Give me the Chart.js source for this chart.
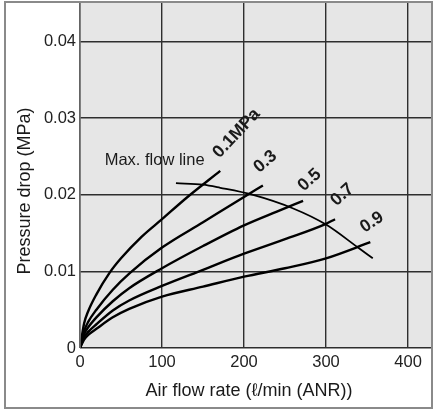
<!DOCTYPE html>
<html>
<head>
<meta charset="utf-8">
<script src="https://cdn.jsdelivr.net/npm/chart.js@4"></script>
<style>
  html, body { margin: 0; padding: 0; background: #fff; }
  #wrap { width: 433px; height: 411px; }
</style>
</head>
<body>
<div id="wrap"><canvas id="chart" width="433" height="411"></canvas></div>
<script>
// pressure labels for each curve
const pressures = ['0.1MPa', '0.3', '0.5', '0.7', '0.9'];

// air flow (l/min) and pressure drop (MPa)
const flow01 = [0, 5, 10, 20, 36, 50, 75, 100, 130, 171];
const drop01 = [0, 0.0032, 0.0048, 0.0070, 0.0098, 0.0117, 0.0145, 0.0168, 0.0196, 0.0231];

const flow03 = [0, 5, 10, 20, 40, 61, 100, 150, 200, 223];
const drop03 = [0, 0.0022, 0.0034, 0.0050, 0.0076, 0.0098, 0.0131, 0.0164, 0.0197, 0.0212];

const flow05 = [0, 5, 10, 20, 40, 60, 100, 150, 200, 240, 272];
const drop05 = [0, 0.0018, 0.0027, 0.0040, 0.0061, 0.0078, 0.0104, 0.0133, 0.0160, 0.0178, 0.0192];

const flow07 = [0, 5, 10, 20, 40, 60, 100, 150, 200, 250, 300, 311];
const drop07 = [0, 0.0014, 0.0021, 0.0031, 0.0049, 0.0062, 0.0081, 0.0102, 0.0123, 0.0142, 0.0162, 0.0168];

const flow09 = [0, 5, 10, 20, 40, 60, 100, 150, 200, 250, 300, 354];
const drop09 = [0, 0.0011, 0.0017, 0.0025, 0.0040, 0.0051, 0.0067, 0.0080, 0.0093, 0.0104, 0.0117, 0.0138];

const maxFlow = [117, 150, 171, 210, 260, 300, 339, 357];
const maxDrop = [0.0215, 0.0213, 0.0209, 0.0200, 0.0182, 0.0161, 0.0131, 0.0117];

const xTicks = [0, 100, 200, 300, 400];
const yTicks = [0, 0.01, 0.02, 0.03, 0.04];

function pts(xs, ys) {
    return xs.map((x, i) => ({ x: x, y: ys[i] }));
}

function curve(xs, ys) {
    return {
        data: pts(xs, ys),
        showLine: true,
        borderColor: '#000',
        borderWidth: 2.4,
        pointRadius: 0,
        tension: 0.4,
        cubicInterpolationMode: 'monotone',
        fill: false
    };
}

// text placed on the plot, in data units
const notes = [
    { text: pressures[0], x: 191, y: 0.0280, angle: -47, bold: true },
    { text: pressures[1], x: 226, y: 0.0243, angle: -40, bold: true },
    { text: pressures[2], x: 280, y: 0.0219, angle: -42, bold: true },
    { text: pressures[3], x: 320, y: 0.0200, angle: -42, bold: true },
    { text: pressures[4], x: 356, y: 0.0164, angle: -33, bold: true },
    { text: 'Max. flow line', x: 91, y: 0.0245, angle: 0, bold: false }
];

const FONT = '"Liberation Sans", Arial, sans-serif';

const decor = {
    id: 'decor',
    beforeDraw(chart) {
        const ctx = chart.ctx;
        const a = chart.chartArea;
        ctx.save();
        ctx.fillStyle = '#e6e6e6';
        ctx.fillRect(a.left, a.top, a.right - a.left, a.bottom - a.top);
        ctx.restore();
    },
    afterDraw(chart) {
        const ctx = chart.ctx;
        const a = chart.chartArea;
        const xs = chart.scales.x, ys = chart.scales.y;
        ctx.save();
        // outer frame
        ctx.strokeStyle = '#8a8a8a';
        ctx.lineWidth = 2;
        ctx.strokeRect(5, 2, 427, 406);
        // plot edge
        ctx.strokeStyle = '#777';
        ctx.lineWidth = 1.5;
        ctx.beginPath();
        ctx.moveTo(a.left, a.top);
        ctx.lineTo(a.left, a.bottom);
        ctx.stroke();

        ctx.fillStyle = '#1a1a1a';
        notes.forEach(n => {
            ctx.save();
            ctx.translate(xs.getPixelForValue(n.x), ys.getPixelForValue(n.y));
            ctx.rotate(n.angle * Math.PI / 180);
            ctx.font = (n.bold ? 'bold 17.5px ' : '16.5px ') + FONT;
            ctx.textAlign = 'center';
            ctx.textBaseline = 'middle';
            ctx.fillText(n.text, 0, 0);
            ctx.restore();
        });

        // axis titles
        ctx.font = '18px ' + FONT;
        ctx.textAlign = 'center';
        ctx.textBaseline = 'middle';
        ctx.fillText('Air flow rate (\u2113/min (ANR))', 249, 391);
        ctx.save();
        ctx.translate(25, 191);
        ctx.rotate(-Math.PI / 2);
        ctx.fillText('Pressure drop (MPa)', 0, 0);
        ctx.restore();
        ctx.restore();
    }
};

new Chart(document.getElementById('chart'), {
    type: 'scatter',
    data: {
        datasets: [
            curve(flow01, drop01),
            curve(flow03, drop03),
            curve(flow05, drop05),
            curve(flow07, drop07),
            curve(flow09, drop09),
            Object.assign(curve(maxFlow, maxDrop), { borderWidth: 1.8 })
        ]
    },
    options: {
        responsive: false,
        animation: false,
        layout: { padding: { left: 0, top: 3, right: 2, bottom: 0 } },
        plugins: {
            legend: { display: false },
            tooltip: { enabled: false }
        },
        scales: {
            x: {
                type: 'linear',
                min: 0,
                max: 428,
                afterFit: s => { s.height = 63; s.paddingLeft = 0; s.paddingRight = 0; },
                afterBuildTicks: s => { s.ticks = xTicks.map(v => ({ value: v })); },
                grid: { color: '#2e2e2e', lineWidth: 1.4, drawTicks: false },
                border: { display: false },
                ticks: {
                    padding: 5,
                    color: '#222',
                    font: { family: FONT, size: 16.5 }
                }
            },
            y: {
                type: 'linear',
                min: 0,
                max: 0.045,
                afterFit: s => { s.width = 80; s.paddingTop = 0; s.paddingBottom = 0; },
                afterBuildTicks: s => { s.ticks = yTicks.map(v => ({ value: v })); },
                grid: { color: '#2e2e2e', lineWidth: 1.4, drawTicks: false },
                border: { display: false },
                ticks: {
                    padding: 4,
                    color: '#222',
                    font: { family: FONT, size: 16.5 },
                    callback: v => v === 0 ? '0' : v.toFixed(2)
                }
            }
        }
    },
    plugins: [decor]
});
</script>
</body>
</html>
